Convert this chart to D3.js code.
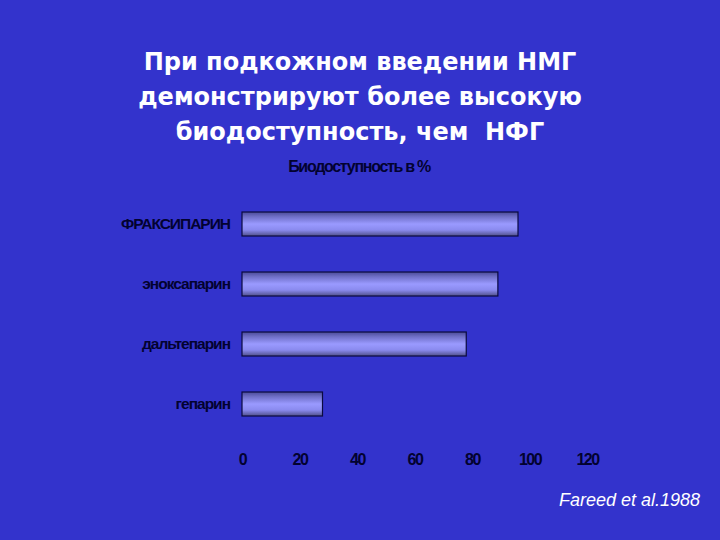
<!DOCTYPE html>
<html lang="ru">
<head>
  <meta charset="UTF-8">
  <title>Биодоступность НМГ</title>
  <script src="https://d3js.org/d3.v7.min.js"></script>
  <style>
    body { margin: 0; background: #3333cc; }
    svg { display: block; }
  </style>
</head>
<body>
  <script>
    // Chart data
    const drugs = ["ФРАКСИПАРИН", "эноксапарин", "дальтепарин", "гепарин"];
    const bioavailability = [96, 89, 78, 28];
    const tickValues = [0, 20, 40, 60, 80, 100, 120];
    const titleLines = [
      "При подкожном введении НМГ",
      "демонстрируют более высокую",
      "биодоступность, чем  НФГ"
    ];

    const W = 720, H = 540;
    const ink = "#020230";
    const svg = d3.select("body").append("svg")
      .attr("width", W).attr("height", H);

    svg.append("rect").attr("width", W).attr("height", H).attr("fill", "#3333cc");

    // vertical gradient for the bars
    const grad = svg.append("defs").append("linearGradient")
      .attr("id", "barGrad").attr("x1", 0).attr("y1", 0).attr("x2", 0).attr("y2", 1);
    [[0, "#4a4a99"], [0.2, "#7070c8"], [0.5, "#9a9aff"], [0.75, "#8a8aee"], [1, "#50508a"]]
      .forEach(([o, c]) => grad.append("stop").attr("offset", o).attr("stop-color", c));

    // title
    svg.append("g").selectAll("text")
      .data(titleLines).join("text")
      .attr("x", 360).attr("y", (d, i) => 70 + i * 35)
      .attr("text-anchor", "middle")
      .attr("fill", "#ffffff")
      .style("white-space", "pre")
      .style("font-family", "DejaVu Sans, Verdana, sans-serif")
      .style("font-weight", "bold")
      .style("font-size", "24px")
      .text(d => d);

    const x = d3.scaleLinear().domain([0, 120]).range([242, 587]);
    const y = d3.scaleBand().domain(drugs).range([194, 434])
      .paddingInner(0.6).paddingOuter(0.3);

    // axis title
    svg.append("text")
      .attr("x", 359).attr("y", 172)
      .attr("text-anchor", "middle")
      .attr("fill", ink)
      .style("font-family", "Liberation Sans, Arial, sans-serif")
      .style("font-weight", "bold")
      .style("font-size", "16px")
      .style("letter-spacing", "-1.3px")
      .text("Биодоступность в %");

    // bars
    svg.append("g").selectAll("rect")
      .data(drugs).join("rect")
      .attr("x", x(0))
      .attr("y", d => y(d))
      .attr("width", (d, i) => x(bioavailability[i]) - x(0))
      .attr("height", y.bandwidth())
      .attr("fill", "url(#barGrad)")
      .attr("stroke", "#0a0a40")
      .attr("stroke-width", 1.2);

    // category labels
    const yAxis = svg.append("g")
      .attr("transform", "translate(242,0)")
      .call(d3.axisLeft(y).tickSize(0).tickPadding(12));
    yAxis.select(".domain").remove();
    yAxis.selectAll("text")
      .attr("fill", ink)
      .style("font-family", "Liberation Sans, Arial, sans-serif")
      .style("font-weight", "bold")
      .style("font-size", "15.5px")
      .style("letter-spacing", "-1px");

    // value axis labels
    const xAxis = svg.append("g")
      .attr("transform", "translate(0,454)")
      .call(d3.axisBottom(x).tickValues(tickValues).tickSize(0).tickPadding(0));
    xAxis.select(".domain").remove();
    xAxis.selectAll("text")
      .attr("fill", ink)
      .attr("dy", "0.71em")
      .style("font-family", "Liberation Sans, Arial, sans-serif")
      .style("font-weight", "bold")
      .style("font-size", "16px")
      .style("letter-spacing", "-1.5px");

    // source note
    svg.append("text")
      .attr("x", 700).attr("y", 506)
      .attr("text-anchor", "end")
      .attr("fill", "#ffffff")
      .style("font-family", "Liberation Sans, Arial, sans-serif")
      .style("font-style", "italic")
      .style("font-size", "18px")
      .text("Fareed et al.1988");
  </script>
</body>
</html>
